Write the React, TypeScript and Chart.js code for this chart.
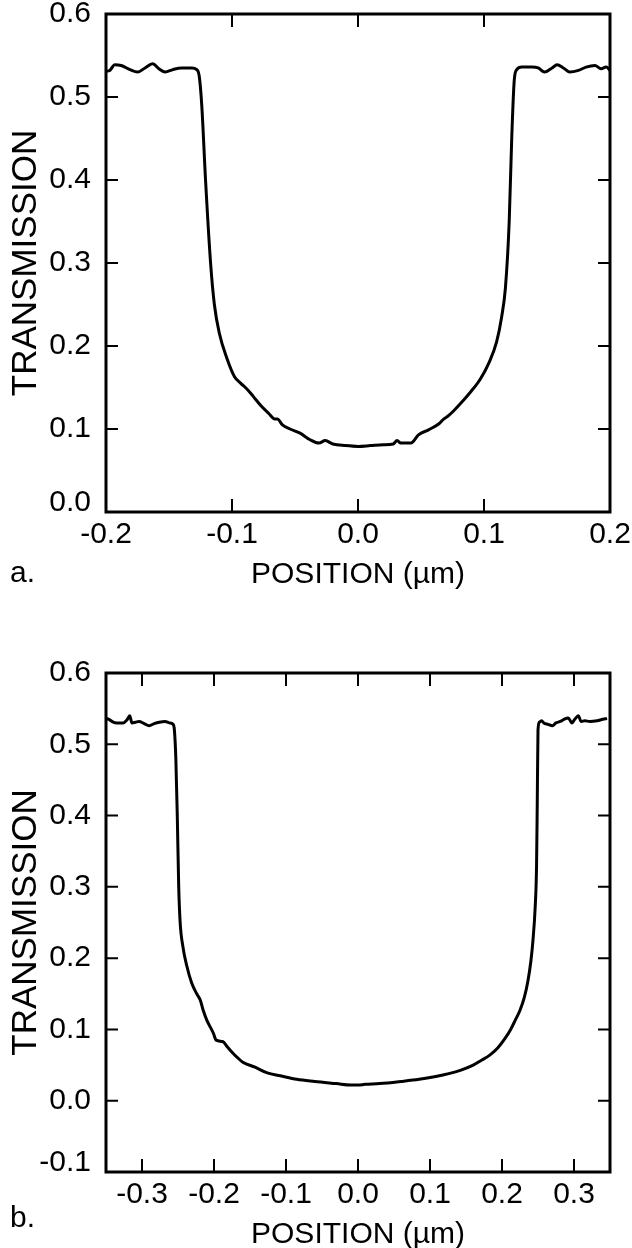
import React, { useEffect, useRef } from "react";
import { Chart, registerables } from "chart.js";

Chart.register(...registerables);

// ---------- Panel a data ----------
const POS_A = [
  -0.200, -0.197, -0.193, -0.188, -0.181, -0.175, -0.169, -0.163, -0.158, -0.153,
  -0.147, -0.140, -0.132, -0.128, -0.126, -0.124, -0.121, -0.117, -0.114, -0.110,
  -0.104, -0.098, -0.093, -0.088, -0.083, -0.077, -0.071, -0.066, -0.064, -0.060,
  -0.054, -0.046, -0.038, -0.031, -0.026, -0.020, -0.010, 0.000, 0.010, 0.020,
  0.028, 0.031, 0.034, 0.042, 0.048, 0.056, 0.064, 0.068, 0.071, 0.076,
  0.081, 0.089, 0.097, 0.104, 0.110, 0.114, 0.117, 0.120, 0.122, 0.124,
  0.126, 0.130, 0.138, 0.143, 0.148, 0.154, 0.158, 0.163, 0.168, 0.175,
  0.181, 0.188, 0.193, 0.197, 0.200,
];
const TRANS_A = [
  0.531, 0.532, 0.539, 0.538, 0.533, 0.530, 0.535, 0.540, 0.534, 0.530,
  0.533, 0.535, 0.535, 0.533, 0.525, 0.490, 0.400, 0.300, 0.250, 0.215,
  0.185, 0.163, 0.155, 0.148, 0.139, 0.128, 0.119, 0.112, 0.112, 0.105,
  0.100, 0.095, 0.087, 0.083, 0.086, 0.082, 0.080, 0.079, 0.080, 0.081,
  0.082, 0.086, 0.083, 0.083, 0.093, 0.099, 0.106, 0.112, 0.115, 0.122,
  0.130, 0.144, 0.160, 0.180, 0.205, 0.235, 0.270, 0.350, 0.450, 0.520,
  0.533, 0.536, 0.536, 0.535, 0.530, 0.535, 0.539, 0.535, 0.530, 0.532,
  0.536, 0.538, 0.534, 0.536, 0.532,
];
const X_TICKS_A = [-0.2, -0.1, 0.0, 0.1, 0.2];
const X_LABELS_A = ["-0.2", "-0.1", "0.0", "0.1", "0.2"];
const Y_TICKS_A = [0.0, 0.1, 0.2, 0.3, 0.4, 0.5, 0.6];
const Y_LABELS_A = ["0.0", "0.1", "0.2", "0.3", "0.4", "0.5", "0.6"];

// ---------- Panel b data ----------
const POS_B = [
  -0.350, -0.346, -0.340, -0.335, -0.326, -0.321, -0.317, -0.314, -0.309, -0.304,
  -0.297, -0.290, -0.283, -0.276, -0.268, -0.262, -0.257, -0.255, -0.253, -0.251,
  -0.249, -0.247, -0.243, -0.238, -0.231, -0.224, -0.219, -0.215, -0.210, -0.201,
  -0.197, -0.188, -0.181, -0.174, -0.167, -0.160, -0.143, -0.126, -0.108, -0.085,
  -0.060, -0.030, -0.010, 0.000, 0.010, 0.030, 0.060, 0.085, 0.108, 0.126,
  0.143, 0.160, 0.172, 0.183, 0.194, 0.204, 0.212, 0.218, 0.225, 0.231,
  0.236, 0.240, 0.243, 0.246, 0.248, 0.249, 0.250, 0.252, 0.255, 0.258,
  0.264, 0.270, 0.275, 0.281, 0.286, 0.292, 0.297, 0.301, 0.306, 0.310,
  0.315, 0.322, 0.332, 0.340, 0.346, 0.350,
];
const TRANS_B = [
  0.536, 0.535, 0.531, 0.530, 0.530, 0.534, 0.540, 0.530, 0.531, 0.532,
  0.529, 0.526, 0.529, 0.531, 0.532, 0.530, 0.528, 0.520, 0.480, 0.400,
  0.300, 0.250, 0.215, 0.190, 0.165, 0.150, 0.141, 0.127, 0.113, 0.095,
  0.085, 0.083, 0.075, 0.067, 0.060, 0.054, 0.047, 0.039, 0.035, 0.030,
  0.027, 0.024, 0.022, 0.022, 0.023, 0.024, 0.027, 0.030, 0.034, 0.038,
  0.043, 0.050, 0.057, 0.064, 0.074, 0.087, 0.100, 0.112, 0.127, 0.145,
  0.168, 0.195, 0.225, 0.270, 0.330, 0.420, 0.520, 0.531, 0.533, 0.530,
  0.528, 0.526, 0.530, 0.532, 0.535, 0.537, 0.530, 0.535, 0.540, 0.532,
  0.533, 0.532, 0.533, 0.535, 0.536,
];
const X_TICKS_B = [-0.3, -0.2, -0.1, 0.0, 0.1, 0.2, 0.3];
const X_LABELS_B = ["-0.3", "-0.2", "-0.1", "0.0", "0.1", "0.2", "0.3"];
const Y_TICKS_B = [-0.1, 0.0, 0.1, 0.2, 0.3, 0.4, 0.5, 0.6];
const Y_LABELS_B = ["-0.1", "0.0", "0.1", "0.2", "0.3", "0.4", "0.5", "0.6"];

const X_TITLE = "POSITION (µm)";
const Y_TITLE = "TRANSMISSION";

const FONT = "'Liberation Sans', Arial, Helvetica, sans-serif";
const FS = 30;
const FS_YTITLE = 35;

type PanelSpec = {
  xs: number[];
  ys: number[];
  xTicks: number[];
  xLabels: string[];
  yTicks: number[];
  yLabels: string[];
  xMin: number;
  xMax: number;
  yMin: number;
  yMax: number;
  panel: string;
  panelDy: number;
  padTop: number;
};

function labelFor(ticks: number[], labels: string[], v: number) {
  const i = ticks.findIndex((t) => Math.abs(t - v) < 1e-9);
  return i >= 0 ? labels[i] : "";
}

function zeroPad(s: any) {
  s.paddingLeft = 0;
  s.paddingRight = 0;
  s.paddingTop = 0;
  s.paddingBottom = 0;
}

function makeConfig(p: PanelSpec): any {
  const framePlugin = {
    id: "frame" + p.panel.replace(".", ""),
    afterDraw(chart: any) {
      const { ctx, chartArea } = chart;
      const { left, right, top, bottom } = chartArea;
      const xs = chart.scales.x;
      const ys = chart.scales.y;
      ctx.save();
      ctx.strokeStyle = "#000";
      ctx.lineWidth = 3;
      ctx.strokeRect(left, top, right - left, bottom - top);
      ctx.lineWidth = 2;
      ctx.beginPath();
      xs.ticks.forEach((t: any) => {
        const px = xs.getPixelForValue(t.value);
        if (px <= left + 2 || px >= right - 2) return;
        ctx.moveTo(px, bottom);
        ctx.lineTo(px, bottom - 13);
        ctx.moveTo(px, top);
        ctx.lineTo(px, top + 13);
      });
      ys.ticks.forEach((t: any) => {
        const py = ys.getPixelForValue(t.value);
        if (py <= top + 2 || py >= bottom - 2) return;
        ctx.moveTo(left, py);
        ctx.lineTo(left + 12, py);
        ctx.moveTo(right, py);
        ctx.lineTo(right - 12, py);
      });
      ctx.stroke();
      ctx.fillStyle = "#000";
      ctx.font = `${FS}px ${FONT}`;
      ctx.textAlign = "left";
      ctx.textBaseline = "middle";
      ctx.fillText(p.panel, 10, bottom + p.panelDy);
      ctx.restore();
    },
  };

  return {
    type: "scatter",
    data: {
      datasets: [
        {
          data: p.xs.map((x, i) => ({ x, y: p.ys[i] })),
          showLine: true,
          borderColor: "#000",
          borderWidth: 3,
          pointRadius: 0,
          cubicInterpolationMode: "monotone",
          fill: false,
        },
      ],
    },
    options: {
      animation: false,
      responsive: false,
      maintainAspectRatio: false,
      devicePixelRatio: 1,
      layout: { padding: { top: p.padTop, right: 22, bottom: 40, left: 0 } },
      plugins: { legend: { display: false }, tooltip: { enabled: false } },
      scales: {
        x: {
          type: "linear",
          position: "bottom",
          min: p.xMin,
          max: p.xMax,
          afterBuildTicks: (s: any) => {
            s.ticks = p.xTicks.map((v) => ({ value: v }));
          },
          afterFit: (s: any) => {
            s.height = 88;
            zeroPad(s);
          },
          grid: { display: false, drawTicks: false },
          border: { display: false },
          ticks: {
            autoSkip: false,
            maxRotation: 0,
            padding: 5,
            color: "#000",
            font: { family: FONT, size: FS },
            callback: (v: number) => labelFor(p.xTicks, p.xLabels, v),
          },
          title: {
            display: true,
            text: X_TITLE,
            color: "#000",
            font: { family: FONT, size: FS },
            padding: { top: 0, bottom: 7 },
          },
        },
        y: {
          type: "linear",
          position: "left",
          min: p.yMin,
          max: p.yMax,
          afterBuildTicks: (s: any) => {
            s.ticks = p.yTicks.map((v) => ({ value: v }));
          },
          afterFit: (s: any) => {
            s.width = 106;
            zeroPad(s);
          },
          grid: { display: false, drawTicks: false },
          border: { display: false },
          ticks: {
            autoSkip: false,
            padding: 15,
            color: "#000",
            font: (c: any) =>
              c.index === 0
                ? { family: FONT, size: FS, lineHeight: 0.6 }
                : { family: FONT, size: FS },
            callback: (v: number) => {
              const s = labelFor(p.yTicks, p.yLabels, v);
              // lowest label sits slightly above its tick, as in the original
              return Math.abs(v - p.yMin) < 1e-9 ? [s, ""] : s;
            },
          },
          title: {
            display: true,
            text: Y_TITLE,
            color: "#000",
            font: { family: FONT, size: FS_YTITLE },
            padding: { top: 5, bottom: 0 },
          },
        },
      },
    },
    plugins: [framePlugin],
  };
}

function Panel({ spec, top }: { spec: PanelSpec; top: number }) {
  const ref = useRef<HTMLCanvasElement | null>(null);
  useEffect(() => {
    if (!ref.current) return;
    const chart = new Chart(ref.current, makeConfig(spec));
    return () => chart.destroy();
  }, [spec]);
  return (
    <canvas
      ref={ref}
      width={632}
      height={640}
      style={{ position: "absolute", left: 0, top, width: 632, height: 640 }}
    />
  );
}

const SPEC_A: PanelSpec = {
  xs: POS_A,
  ys: TRANS_A,
  xTicks: X_TICKS_A,
  xLabels: X_LABELS_A,
  yTicks: Y_TICKS_A,
  yLabels: Y_LABELS_A,
  xMin: -0.2,
  xMax: 0.2,
  yMin: 0.0,
  yMax: 0.6,
  panel: "a.",
  panelDy: 62,
  padTop: 14,
};

const SPEC_B: PanelSpec = {
  xs: POS_B,
  ys: TRANS_B,
  xTicks: X_TICKS_B,
  xLabels: X_LABELS_B,
  yTicks: Y_TICKS_B,
  yLabels: Y_LABELS_B,
  xMin: -0.35,
  xMax: 0.35,
  yMin: -0.1,
  yMax: 0.6,
  panel: "b.",
  panelDy: 47,
  padTop: 13,
};

export default function App() {
  return (
    <div
      style={{
        position: "fixed",
        left: 0,
        top: 0,
        width: 632,
        height: 1248,
        overflow: "hidden",
        background: "#fff",
      }}
    >
      <Panel spec={SPEC_A} top={0} />
      <Panel spec={SPEC_B} top={660} />
    </div>
  );
}
